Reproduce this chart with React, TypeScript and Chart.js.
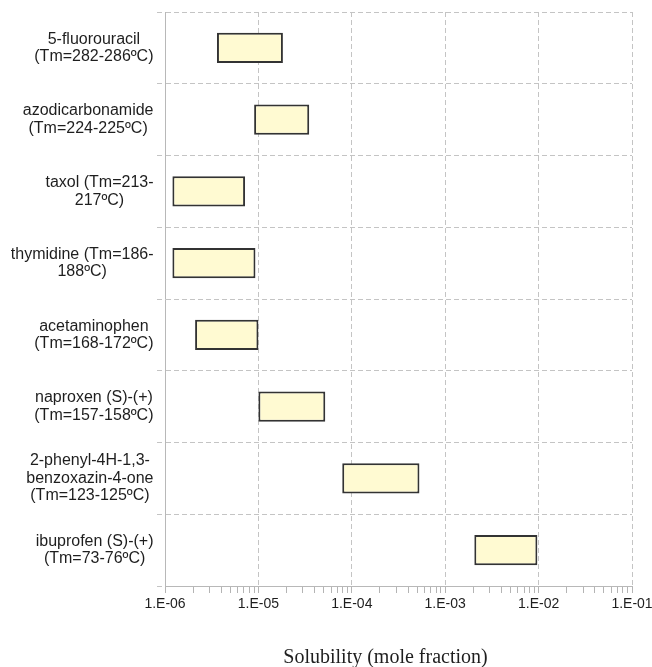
import React, { useEffect, useRef } from 'react';
import { Chart, registerables } from 'chart.js';

Chart.register(...registerables);

// ---- data ----
const compoundLabels: string[][] = [
  ['5-fluorouracil', '(Tm=282-286ºC)'],
  ['azodicarbonamide', '(Tm=224-225ºC)'],
  ['taxol (Tm=213-', '217ºC)'],
  ['thymidine (Tm=186-', '188ºC)'],
  ['acetaminophen', '(Tm=168-172ºC)'],
  ['naproxen (S)-(+)', '(Tm=157-158ºC)'],
  ['2-phenyl-4H-1,3-', 'benzoxazin-4-one', '(Tm=123-125ºC)'],
  ['ibuprofen (S)-(+)', '(Tm=73-76ºC)'],
];

const solubilityMin = [3.6e-6, 9.0e-6, 1.2e-6, 1.2e-6, 2.1e-6, 1.0e-5, 7.9e-5, 2.05e-3];
const solubilityMax = [1.83e-5, 3.5e-5, 7.2e-6, 9.3e-6, 1.0e-5, 5.2e-5, 5.3e-4, 9.7e-3];

const decadeValues = [1e-6, 1e-5, 1e-4, 1e-3, 1e-2, 1e-1];
const decadeLabels = ['1.E-06', '1.E-05', '1.E-04', '1.E-03', '1.E-02', '1.E-01'];
const minorMultipliers = [2, 3, 4, 5, 6, 7, 8, 9];

const xAxisTitle = 'Solubility (mole fraction)';

const isDecade = (v: number) =>
  decadeValues.some((d) => Math.abs(Math.log10(d) - Math.log10(v)) < 1e-6);

export default function App() {
  const ref = useRef<HTMLCanvasElement>(null);

  useEffect(() => {
    const canvas = ref.current;
    if (!canvas) return;

    const allTicks: number[] = [];
    decadeValues.forEach((d, i) => {
      allTicks.push(d);
      if (i < decadeValues.length - 1) {
        minorMultipliers.forEach((m) => allTicks.push(+(d * m).toPrecision(6)));
      }
    });

    const labelPlugin = {
      id: 'customLabels',
      afterDraw(chart: any) {
        const ctx = chart.ctx as CanvasRenderingContext2D;
        const yScale = chart.scales.y;
        const xScale = chart.scales.x;
        ctx.save();
        ctx.fillStyle = '#1e1e1e';
        ctx.textAlign = 'center';
        ctx.textBaseline = 'middle';
        ctx.font = '16px "Liberation Sans", Arial, sans-serif';
        const lineH = 17.5;
        const rightEdge = yScale.right - 11.5;
        compoundLabels.forEach((lines, i) => {
          const cy = yScale.getPixelForValue(i);
          const w = Math.max(...lines.map((l) => ctx.measureText(l).width));
          const cx = rightEdge - w / 2;
          lines.forEach((l, j) => {
            ctx.fillText(l, cx, cy + (j - (lines.length - 1) / 2) * lineH);
          });
        });
        ctx.font = '20px "Liberation Serif", "Times New Roman", serif';
        ctx.fillText(xAxisTitle, (xScale.left + xScale.right) / 2 - 13, xScale.bottom - 9);
        ctx.restore();
      },
    };

    const chart = new Chart(canvas, {
      type: 'bar',
      data: {
        labels: compoundLabels.map((l) => l.join(' ')),
        datasets: [
          {
            data: solubilityMin.map((lo, i) => [lo, solubilityMax[i]]) as any,
            backgroundColor: '#FFFAD2',
            borderColor: '#333333',
            borderWidth: 2,
            borderSkipped: false,
            barPercentage: 0.42,
            categoryPercentage: 1,
          },
        ],
      },
      options: {
        indexAxis: 'y',
        animation: false,
        responsive: true,
        maintainAspectRatio: false,
        devicePixelRatio: 1,
        layout: { padding: { left: 0, top: 12, right: 20, bottom: 0 } },
        plugins: {
          legend: { display: false },
          tooltip: { enabled: false },
          title: { display: false },
        },
        scales: {
          x: {
            type: 'logarithmic',
            position: 'bottom',
            min: 1e-6,
            max: 1e-1,
            afterBuildTicks: (s: any) => {
              s.ticks = allTicks.map((v) => ({ value: v }));
            },
            afterFit: (s: any) => {
              s.height = 81;
              s.paddingLeft = 0;
              s.paddingRight = 0;
            },
            ticks: {
              autoSkip: false,
              maxRotation: 0,
              minRotation: 0,
              padding: 3,
              color: '#1e1e1e',
              font: { family: '"Liberation Sans", Arial, sans-serif', size: 14 },
              callback: (v: any) => {
                const idx = decadeValues.findIndex(
                  (d) => Math.abs(Math.log10(d) - Math.log10(Number(v))) < 1e-6
                );
                return idx >= 0 ? decadeLabels[idx] : '';
              },
            },
            grid: {
              color: (c: any) =>
                c.tick && isDecade(c.tick.value) ? '#c4c4c4' : 'rgba(0,0,0,0)',
              tickColor: '#b4b4b4',
              tickLength: 7,
              lineWidth: 1,
            },
            border: { display: true, color: '#b8b8b8', dash: [5, 3] },
          },
          y: {
            type: 'category',
            position: 'left',
            afterFit: (s: any) => {
              s.width = 165;
            },
            ticks: { display: false },
            grid: {
              offset: true,
              color: '#c4c4c4',
              tickColor: '#c4c4c4',
              tickLength: 8,
              tickBorderDash: [5, 3],
              lineWidth: 1,
            },
            border: { display: true, color: '#b8b8b8', dash: [5, 3] },
          },
        },
      } as any,
      plugins: [labelPlugin],
    });

    return () => chart.destroy();
  }, []);

  return (
    <div
      style={{
        position: 'fixed',
        left: 0,
        top: 0,
        width: 652,
        height: 667,
        background: '#ffffff',
      }}
    >
      <canvas ref={ref} />
    </div>
  );
}
